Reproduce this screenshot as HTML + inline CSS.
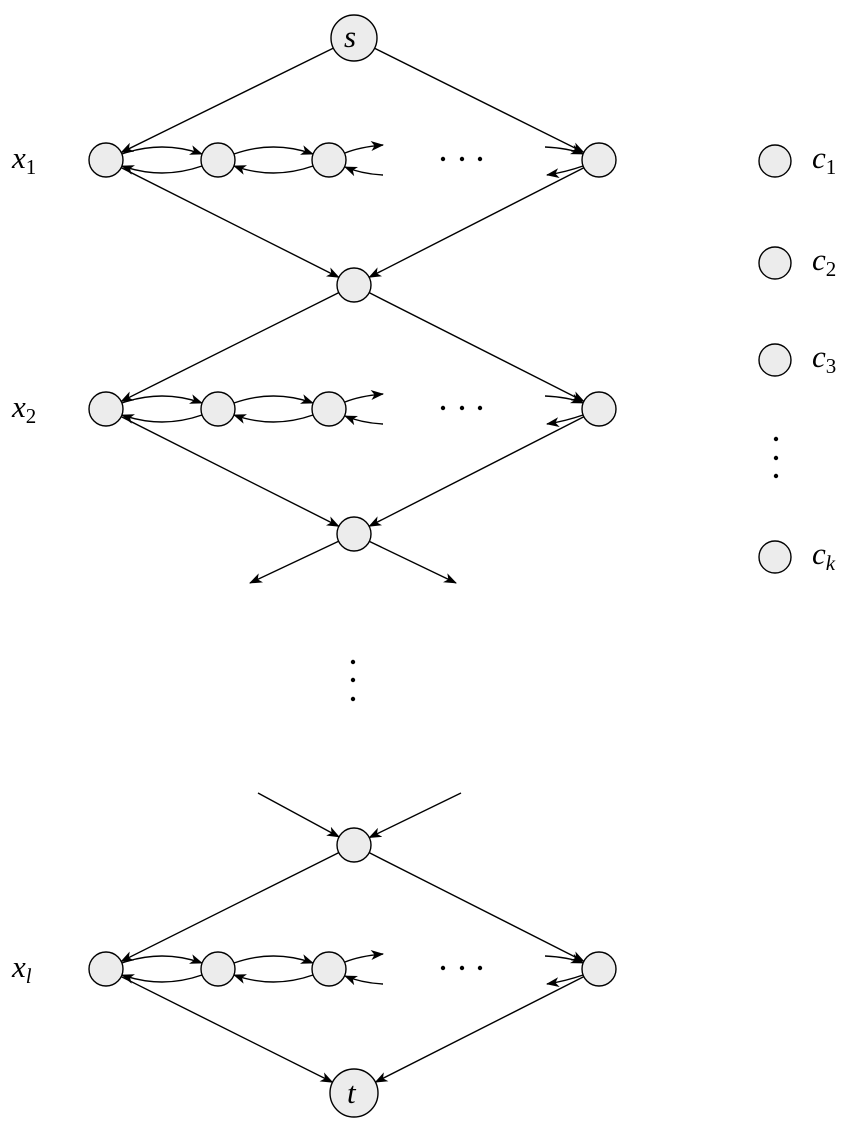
<!DOCTYPE html>
<html><head><meta charset="utf-8"><style>
html,body{margin:0;padding:0;background:#fff;width:856px;height:1136px;overflow:hidden}
</style></head><body>
<svg id="g" width="856" height="1136" viewBox="0 0 856 1136" xmlns="http://www.w3.org/2000/svg">
<defs>
<marker id="a" viewBox="0 0 13 10" refX="12" refY="5" markerWidth="13" markerHeight="10" markerUnits="userSpaceOnUse" orient="auto">
<path d="M0,0 L13,5 L0,10 L3.5,5 Z" fill="#000"/>
</marker>
</defs>
<g id="e" stroke="#000" stroke-width="1.4" fill="none"></g>
<g id="n" stroke="#000" stroke-width="1.4" fill="#ececec"></g>
<g fill="#000">
<circle cx="443" cy="159" r="2.2"/><circle cx="462" cy="159" r="2.2"/><circle cx="480" cy="159" r="2.2"/>
<circle cx="443" cy="408" r="2.2"/><circle cx="462" cy="408" r="2.2"/><circle cx="480" cy="408" r="2.2"/>
<circle cx="443" cy="968" r="2.2"/><circle cx="462" cy="968" r="2.2"/><circle cx="480" cy="968" r="2.2"/>
<circle cx="353" cy="662" r="2.2"/><circle cx="353" cy="680" r="2.2"/><circle cx="353" cy="699" r="2.2"/>
<circle cx="776" cy="439" r="2.2"/><circle cx="776" cy="458" r="2.2"/><circle cx="776" cy="476" r="2.2"/>
</g>
<g font-family="'Liberation Serif','DejaVu Serif',serif" font-style="italic" font-size="31" fill="#000">
<text x="344" y="47">s</text>
<text x="347" y="1103">t</text>
<text x="12" y="168">x<tspan font-size="21" dy="6" font-style="normal">1</tspan></text>
<text x="12" y="417">x<tspan font-size="21" dy="6" font-style="normal">2</tspan></text>
<text x="12" y="977">x<tspan font-size="21" dy="6">l</tspan></text>
<text x="812" y="168">c<tspan font-size="21" dy="6" font-style="normal">1</tspan></text>
<text x="812" y="270">c<tspan font-size="21" dy="6" font-style="normal">2</tspan></text>
<text x="812" y="367">c<tspan font-size="21" dy="6" font-style="normal">3</tspan></text>
<text x="812" y="564">c<tspan font-size="21" dy="6">k</tspan></text>
</g>
</svg>
<script>
var E=document.getElementById('e'),N=document.getElementById('n'),ns="http://www.w3.org/2000/svg";
function el(p,t,a){var e=document.createElementNS(ns,t);for(var k in a)e.setAttribute(k,a[k]);p.appendChild(e);return e;}
var R=17;
function node(x,y,r){el(N,'circle',{cx:x,cy:y,r:r||R});}
function line(a,ra,b,rb){var dx=b[0]-a[0],dy=b[1]-a[1],L=Math.hypot(dx,dy),ux=dx/L,uy=dy/L;
el(E,'line',{x1:a[0]+ux*ra,y1:a[1]+uy*ra,x2:b[0]-ux*rb,y2:b[1]-uy*rb,'marker-end':'url(#a)'});}
function row(y){
 var xs=[106,218,329];
 xs.forEach(function(x){node(x,y)});node(599,y);
 for(var i=0;i<2;i++){var a=xs[i],b=xs[i+1];
  el(E,'path',{d:'M'+(a+16)+','+(y-6)+' Q'+((a+b)/2)+','+(y-20)+' '+(b-16)+','+(y-6),'marker-end':'url(#a)'});
  el(E,'path',{d:'M'+(b-16)+','+(y+6)+' Q'+((a+b)/2)+','+(y+20)+' '+(a+16)+','+(y+6),'marker-end':'url(#a)'});}
 el(E,'path',{d:'M345,'+(y-7)+' Q360,'+(y-13)+' 383,'+(y-15),'marker-end':'url(#a)'});
 el(E,'path',{d:'M383,'+(y+15)+' Q362,'+(y+14)+' 345,'+(y+7),'marker-end':'url(#a)'});
 el(E,'path',{d:'M545,'+(y-13)+' Q568,'+(y-12)+' 583,'+(y-6),'marker-end':'url(#a)'});
 el(E,'path',{d:'M583,'+(y+6)+' Q566,'+(y+12)+' 547,'+(y+15),'marker-end':'url(#a)'});
}
row(160);row(409);row(969);
var s=[354,38],m1=[354,285],m2=[354,534],m3=[354,845],t=[354,1093];
node(s[0],s[1],23);node(t[0],t[1],24);node(m1[0],m1[1]);node(m2[0],m2[1]);node(m3[0],m3[1]);
line(s,23,[106,160],R);line(s,23,[599,160],R);
line([106,160],R,m1,R);line([599,160],R,m1,R);
line(m1,R,[106,409],R);line(m1,R,[599,409],R);
line([106,409],R,m2,R);line([599,409],R,m2,R);
line(m2,R,[250,583],0);line(m2,R,[456,583],0);
line([258,793],0,m3,R);line([461,793],0,m3,R);
line(m3,R,[106,969],R);line(m3,R,[599,969],R);
line([106,969],R,t,24);line([599,969],R,t,24);
[161,263,360,557].forEach(function(y){node(775,y,16)});
</script>
</body></html>
